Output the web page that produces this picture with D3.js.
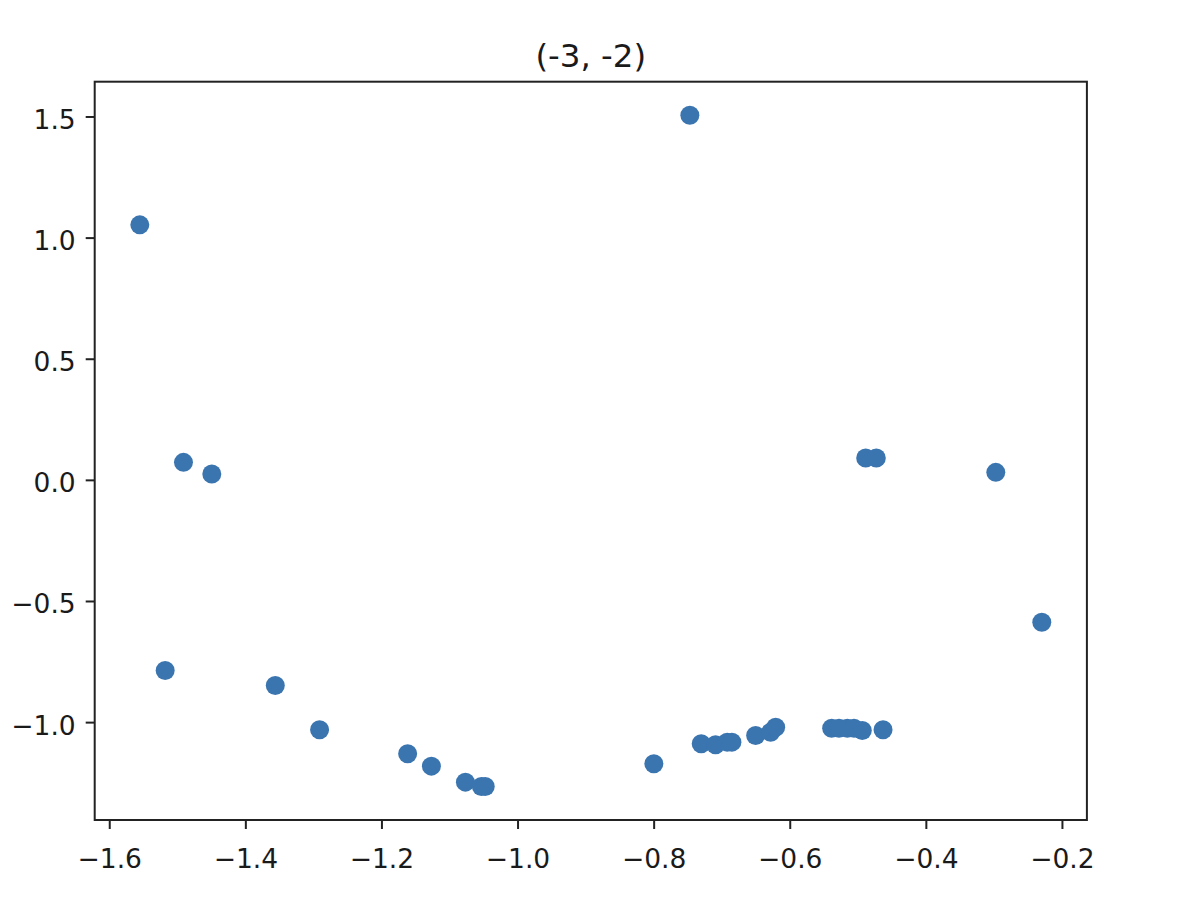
<!DOCTYPE html>
<html>
<head>
<meta charset="utf-8">
<script src="https://cdn.jsdelivr.net/npm/d3@7"></script>
<style>
  html, body { margin: 0; padding: 0; background: #fff; }
  svg { display: block; }
  text { font-family: "DejaVu Sans", sans-serif; fill: #1a1a1a; }
</style>
</head>
<body>
<svg id="chart" width="1180" height="898"></svg>
<script>
const title = "(-3, -2)";
const xValues = [-0.7468, -1.5551, -1.4909, -1.4493, -1.5178, -1.3560, -1.2909, -1.1615, -1.1266, -1.0766,
                 -1.0531, -1.0475, -0.7997, -0.7301, -0.7090, -0.6919, -0.6850, -0.6501, -0.6281, -0.6207,
                 -0.5384, -0.5276, -0.5154, -0.5056, -0.4934, -0.4629, -0.4884, -0.4728, -0.2972, -0.2296];
const yValues = [1.505, 1.0526, 0.0722, 0.0243, -0.787, -0.8489, -1.0316, -1.1306, -1.1817, -1.2477,
                 -1.2655, -1.2655, -1.1718, -1.0893, -1.0935, -1.0827, -1.0827, -1.0551, -1.0415, -1.0209,
                 -1.025, -1.025, -1.025, -1.025, -1.0345, -1.0316, 0.0903, 0.0903, 0.0309, -0.5878];
const xTicks = [-1.6, -1.4, -1.2, -1.0, -0.8, -0.6, -0.4, -0.2];
const yTicks = [-1.0, -0.5, 0.0, 0.5, 1.0, 1.5];

const points = xValues.map((x, i) => ({x, y: yValues[i]}));

const mLeft = 94.7, mRight = 1086.9, mTop = 81.7, mBottom = 820;
const svg = d3.select("#chart");

function padded(ext) { const s = ext[1] - ext[0]; return [ext[0] - 0.05 * s, ext[1] + 0.05 * s]; }
const x = d3.scaleLinear().domain(padded(d3.extent(xValues))).range([mLeft, mRight]);
const y = d3.scaleLinear().domain(padded(d3.extent(yValues))).range([mBottom, mTop]);

const fmt = v => (v < 0 ? "\u2212" : "") + Math.abs(v).toFixed(1);

// points
svg.append("g").selectAll("circle").data(points).join("circle")
  .attr("cx", d => x(d.x)).attr("cy", d => y(d.y)).attr("r", 9.5)
  .attr("fill", "#3a75b0");

// axes
const xAxis = svg.append("g").attr("transform", `translate(0,${mBottom})`)
  .call(d3.axisBottom(x).tickValues(xTicks).tickFormat(fmt).tickSize(9).tickPadding(9));
const yAxis = svg.append("g").attr("transform", `translate(${mLeft},0)`)
  .call(d3.axisLeft(y).tickValues(yTicks).tickFormat(fmt).tickSize(9).tickPadding(10));
[xAxis, yAxis].forEach(g => {
  g.select(".domain").remove();
  g.selectAll(".tick line").attr("stroke", "#222").attr("stroke-width", 2);
  g.selectAll(".tick text").attr("font-size", 26.5).attr("fill", "#1a1a1a")
    .style("font-family", '"DejaVu Sans", sans-serif');
});
xAxis.selectAll(".tick text").attr("dy", null).attr("y", 0).attr("transform", "translate(0,48)");
yAxis.selectAll(".tick text").attr("dy", null).attr("y", 0).attr("transform", "translate(0,12)");

// frame
svg.append("rect").attr("x", mLeft).attr("y", mTop)
  .attr("width", mRight - mLeft).attr("height", mBottom - mTop)
  .attr("fill", "none").attr("stroke", "#222").attr("stroke-width", 2);

// title
svg.append("text").attr("x", (mLeft + mRight) / 2).attr("y", 66.5)
  .attr("text-anchor", "middle").attr("font-size", 32.5).text(title);
</script>
</body>
</html>
